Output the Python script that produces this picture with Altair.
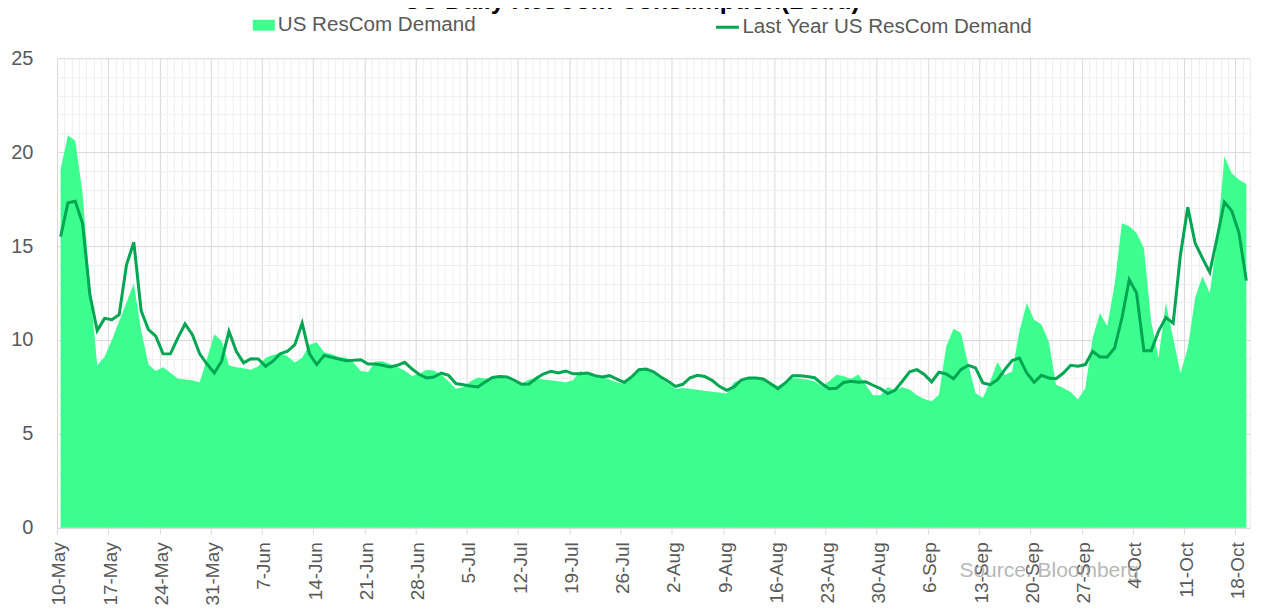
import altair as alt
import pandas as pd

FONT = "Liberation Sans"
TITLE = "US Daily ResCom Consumption(Bcf/d)"
SOURCE = "Source: Bloomberg"
SERIES_NAMES = ["US ResCom Demand", "Last Year US ResCom Demand"]
AREA_COLOR = "#3dff8f"
LINE_COLOR = "#00a651"

# daily values, first point 10-May (plotted at mid-day), last 19-Oct
DEMAND = [
    19.1, 20.9, 20.6, 17.8, 12.9, 8.65, 9.1, 10.0, 11.0, 12.0,
    13.0, 10.5, 8.7, 8.35, 8.55, 8.25, 7.95, 7.9, 7.85, 7.75,
    9.0, 10.3, 9.95, 8.65, 8.55, 8.5, 8.42, 8.6, 9.05, 9.2,
    9.3, 9.13, 8.8, 9.05, 9.75, 9.88, 9.35, 9.25, 9.1, 9.05,
    8.8, 8.35, 8.3, 8.85, 8.87, 8.72, 8.55, 8.37, 8.08, 8.2,
    8.42, 8.37, 8.16, 7.8, 7.4, 7.5, 7.8, 8.0, 7.95, 8.0,
    8.0, 7.95, 7.75, 7.7, 7.9, 7.95, 7.9, 7.85, 7.8, 7.75,
    7.85, 8.35, 8.2, 8.1, 8.03, 7.9, 7.75, 7.65, 8.0, 8.38,
    8.42, 8.2, 7.95, 7.7, 7.4, 7.45, 7.4, 7.35, 7.3, 7.25,
    7.2, 7.15, 7.75, 7.9, 7.95, 7.98, 7.92, 7.75, 7.55, 7.75,
    7.98, 7.95, 7.9, 7.8, 7.55, 7.8, 8.15, 8.07, 7.94, 8.16,
    7.62, 7.06, 7.06, 7.5, 7.32, 7.48, 7.36, 7.06, 6.86, 6.74,
    7.09, 9.66, 10.6, 10.37, 8.69, 7.18, 6.91, 7.8, 8.83, 8.12,
    8.33, 10.46, 11.97, 11.08, 10.82, 9.93, 7.62, 7.45, 7.23, 6.83,
    7.45, 10.1, 11.44, 10.73, 12.94, 16.22, 16.05, 15.69, 14.89, 10.99,
    9.04, 11.97, 10.1, 8.24, 9.57, 12.23, 13.39, 12.5, 15.25, 19.77,
    18.88, 18.53, 18.3,
]
LAST_YEAR = [
    15.5, 17.3, 17.38, 16.2, 12.4, 10.5, 11.15, 11.08, 11.35, 14.0,
    15.2, 11.56, 10.55, 10.2, 9.26, 9.26, 10.1, 10.85, 10.28, 9.26,
    8.72, 8.24, 8.87, 10.46, 9.4, 8.78, 9.0, 8.99, 8.6, 8.87,
    9.27, 9.4, 9.75, 10.9, 9.26, 8.69, 9.18, 9.08, 8.99, 8.9,
    8.92, 8.95, 8.72, 8.72, 8.65, 8.56, 8.65, 8.81, 8.46, 8.16,
    7.98, 8.03, 8.24, 8.12, 7.68, 7.62, 7.55, 7.5, 7.76, 8.0,
    8.06, 8.03, 7.85, 7.64, 7.66, 7.96, 8.2, 8.33, 8.24, 8.35,
    8.2, 8.2, 8.24, 8.1, 8.03, 8.1, 7.92, 7.74, 8.03, 8.42,
    8.45, 8.31, 8.03, 7.8, 7.53, 7.64, 7.99, 8.12, 8.06, 7.85,
    7.53, 7.32, 7.5, 7.87, 7.98, 7.98, 7.92, 7.67, 7.41, 7.71,
    8.1, 8.1, 8.06, 7.99, 7.67, 7.41, 7.43, 7.74, 7.8, 7.75,
    7.77, 7.59, 7.41, 7.15, 7.32, 7.8, 8.3, 8.42, 8.16, 7.77,
    8.28, 8.19, 7.94, 8.42, 8.65, 8.51, 7.71, 7.62, 7.89, 8.42,
    8.9, 9.04, 8.24, 7.75, 8.12, 7.98, 7.94, 8.24, 8.65, 8.6,
    8.69, 9.4, 9.1, 9.1, 9.57, 11.17, 13.21, 12.5, 9.43, 9.43,
    10.46, 11.2, 10.9, 14.54, 17.06, 15.16, 14.36, 13.6, 15.43, 17.34,
    16.88, 15.69, 13.16,
]
FIRST_POINT = "2021-05-10 12:00"
AXIS_START = "2021-05-10"
AXIS_END = "2021-10-20"
Y_MAJOR = [0, 5, 10, 15, 20, 25]
Y_MINOR = [v for v in range(26) if v % 5]

dates = pd.date_range(FIRST_POINT, periods=len(DEMAND), freq="D")
df = pd.DataFrame({"date": dates, "demand": DEMAND, "last": LAST_YEAR})


def dt(ts):
    return alt.DateTime(year=ts.year, month=ts.month, date=ts.day)


all_days = pd.date_range(AXIS_START, AXIS_END, freq="D")
major_days = [dt(d) for k, d in enumerate(all_days) if k % 7 == 0]
minor_days = [dt(d) for k, d in enumerate(all_days) if k % 7]

xscale = alt.Scale(domain=[dt(all_days[0]), dt(all_days[-1])])
yscale = alt.Scale(domain=[0, 25], nice=False, zero=True)

MAJOR_GRID = "#d9d9d9"
MINOR_GRID = "#efefef"
LABEL_COLOR = "#595959"

base = alt.Chart(df)

area = base.mark_area(interpolate="linear", opacity=1).transform_calculate(
    series=f"'{SERIES_NAMES[0]}'"
).encode(
    x=alt.X("date:T", scale=xscale, axis=alt.Axis(
        orient="bottom", values=minor_days, grid=True, gridColor=MINOR_GRID,
        gridWidth=1, labels=False, ticks=False, domain=False, title=None)),
    y=alt.Y("demand:Q", scale=yscale, axis=alt.Axis(
        orient="left", values=Y_MINOR, grid=True, gridColor=MINOR_GRID,
        gridWidth=1, labels=False, ticks=False, domain=False, title=None)),
    fill=alt.Fill("series:N", scale=alt.Scale(domain=[SERIES_NAMES[0]], range=[AREA_COLOR]),
                  legend=alt.Legend(title=None, orient="none", legendX=196, legendY=-44,
                                    symbolType="M-1,-0.5H1V0.5H-1Z", symbolSize=484,
                                    symbolStrokeWidth=0, symbolOpacity=1,
                                    labelFont=FONT, labelFontSize=20.6, labelColor=LABEL_COLOR,
                                    labelOffset=3, labelLimit=600, padding=0)),
)

line = base.mark_line(strokeWidth=3, interpolate="linear").transform_calculate(
    series=f"'{SERIES_NAMES[1]}'"
).encode(
    x=alt.X("date:T", scale=xscale, axis=alt.Axis(
        orient="bottom", values=major_days, format="%-d-%b", labelAngle=-90,
        labelFont=FONT, labelFontSize=19, labelColor=LABEL_COLOR, labelPadding=8,
        labelOffset=2, labelFlush=False, labelOverlap=False, tickColor=MAJOR_GRID,
        tickSize=6, domainColor=MAJOR_GRID, grid=True, gridColor=MAJOR_GRID, title=None)),
    y=alt.Y("last:Q", scale=yscale, axis=alt.Axis(
        orient="left", values=Y_MAJOR, labelFont=FONT, labelFontSize=20,
        labelColor=LABEL_COLOR, labelPadding=24, labelFlush=False, ticks=False,
        domain=False, grid=True, gridColor=MAJOR_GRID, title=None)),
    stroke=alt.Stroke("series:N", scale=alt.Scale(domain=[SERIES_NAMES[1]], range=[LINE_COLOR]),
                      legend=alt.Legend(title=None, orient="none", legendX=658, legendY=-44,
                                        symbolType="stroke", symbolSize=529, symbolStrokeWidth=3,
                                        labelFont=FONT, labelFontSize=20.6, labelColor=LABEL_COLOR,
                                        labelOffset=2, labelLimit=600, padding=0)),
)

source = alt.Chart(pd.DataFrame({"t": [SOURCE]})).mark_text(
    font=FONT, fontSize=21, color="#9a9a9a", opacity=0.7, align="center",
    baseline="alphabetic"
).encode(text="t:N", x=alt.value(993), y=alt.value(519))

chart = alt.layer(area, line, source).resolve_axis(
    x="independent", y="independent"
).properties(
    width=1194, height=470,
    title=alt.TitleParams(TITLE, font=FONT, fontSize=25, fontWeight="bold", color="#000000",
                          anchor="middle", frame="bounds", offset=1, dy=1),
    autosize=alt.AutoSizeParams(type="none"),
    padding={"left": 49, "top": 50, "right": 4, "bottom": 80},
).configure_view(stroke=None)

chart.save("out.html", embed_options={"renderer": "svg", "actions": False})
